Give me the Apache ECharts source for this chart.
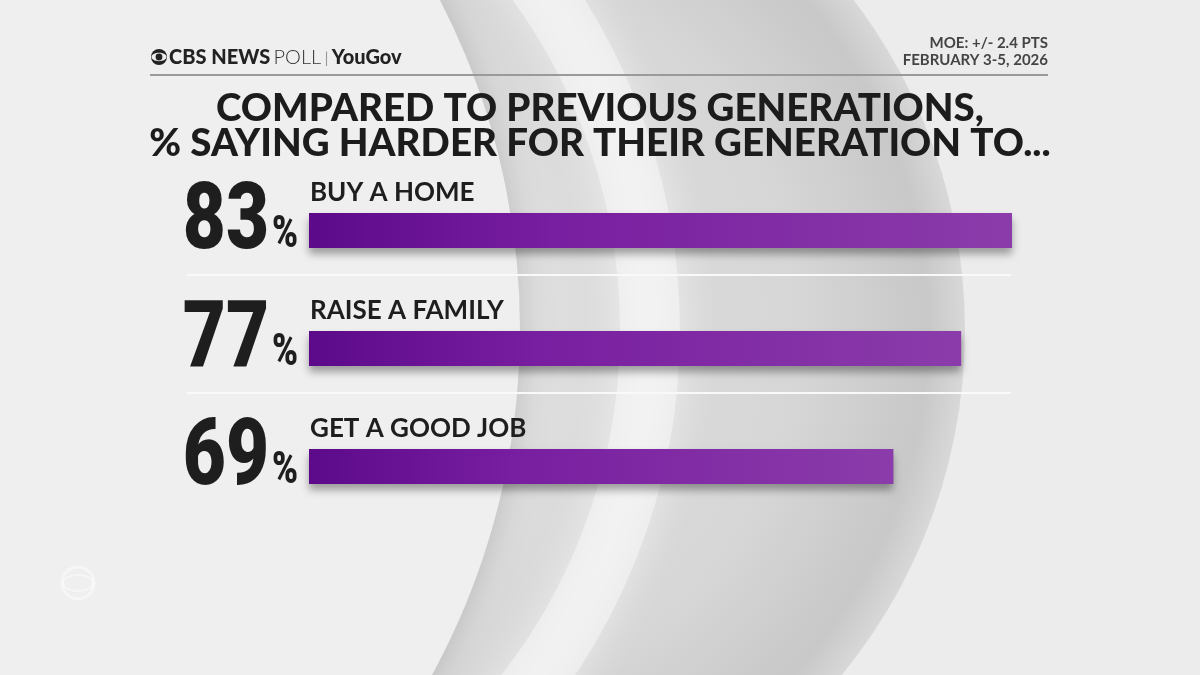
<!DOCTYPE html>
<html>
<head>
<meta charset="utf-8">
<script src="https://cdn.jsdelivr.net/npm/echarts@6/dist/echarts.min.js"></script>
<style>
  html, body { margin: 0; padding: 0; background: #ececec; }
  #chart { width: 1200px; height: 675px; }
</style>
</head>
<body>
<div id="chart"></div>
<script>
// poll data
const categories = ['BUY A HOME', 'RAISE A FAMILY', 'GET A GOOD JOB']
const values = [83, 77, 69]
const titleLines = ['COMPARED TO PREVIOUS GENERATIONS,', '% SAYING HARDER FOR THEIR GENERATION TO...']
const moeText = 'MOE: +/- 2.4 PTS'
const dateText = 'FEBRUARY 3-5, 2026'

const chart = echarts.init(document.getElementById('chart'))

const barColor = new echarts.graphic.LinearGradient(0, 0, 1, 0, [
  { offset: 0, color: '#5c0a8a' },
  { offset: 0.35, color: '#781ea0' },
  { offset: 1, color: '#8b3caa' }
])

// big number + category text, placed from the axis coords
function renderLabels(params, api) {
  const idx = api.value(1)
  const pt = api.coord([0, idx])
  return {
    type: 'group',
    children: [
      {
        type: 'text', x: pt[0] - 40, y: pt[1] - 6, scaleX: 0.8,
        style: {
          text: String(api.value(0)), align: 'right', verticalAlign: 'middle',
          font: '900 93px Roboto', fill: '#1e1e1e'
        }
      },
      {
        type: 'text', x: pt[0] - 11, y: pt[1] + 5, scaleX: 0.78,
        style: {
          text: '%', align: 'right', verticalAlign: 'middle',
          font: '900 45px Roboto', fill: '#1e1e1e'
        }
      },
      {
        type: 'text', x: pt[0] + 1, y: pt[1] - 38,
        style: {
          text: categories[idx], align: 'left', verticalAlign: 'middle',
          font: 'bold 26px Lato', fill: '#1e1e1e'
        }
      }
    ]
  }
}

chart.setOption({
  backgroundColor: '#ececec',
  animation: false,
  graphic: [
    // background, cbs eye style lens
    {
      type: 'circle', z: -10, silent: true,
      shape: { cx: 420, cy: 330, r: 545 },
      style: {
        fill: new echarts.graphic.RadialGradient(0.5, 0.5, 0.5, [
          { offset: 0, color: '#e2e2e2' },
          { offset: 0.7, color: '#d6d6d6' },
          { offset: 0.93, color: '#c8c8c8' },
          { offset: 1, color: '#d8d8d8' }
        ])
      }
    },
    {
      type: 'circle', z: -9, silent: true,
      shape: { cx: 60, cy: 330, r: 590 },
      style: { fill: 'none', stroke: 'rgba(250,250,250,0.5)', lineWidth: 60, shadowBlur: 40, shadowColor: '#ffffff' }
    },
    {
      type: 'circle', z: -8, silent: true,
      shape: { cx: -200, cy: 330, r: 720 },
      style: {
        fill: '#efefef', shadowBlur: 25, shadowColor: 'rgba(0,0,0,0.1)', shadowOffsetX: 6
      }
    },
    // faint cbs bug
    {
      type: 'circle', z: -7, silent: true,
      shape: { cx: 78, cy: 583, r: 16 },
      style: { fill: 'none', stroke: 'rgba(255,255,255,0.45)', lineWidth: 3 }
    },
    {
      type: 'ellipse', z: -7, silent: true,
      shape: { cx: 78, cy: 583, rx: 15, ry: 8 },
      style: { fill: 'none', stroke: 'rgba(255,255,255,0.45)', lineWidth: 2 }
    },
    // header
    {
      type: 'group', left: 151, top: 48,
      children: [
        { type: 'circle', shape: { cx: 8, cy: 9, r: 8 }, style: { fill: '#222' } },
        { type: 'ellipse', shape: { cx: 8, cy: 9, rx: 7.5, ry: 4.2 }, style: { fill: '#eee' } },
        { type: 'circle', shape: { cx: 8, cy: 9, r: 3.4 }, style: { fill: '#222' } },
        {
          type: 'text', x: 18, y: 0,
          style: {
            text: '{b|CBS NEWS} {l|POLL} {s||} {b|YouGov}',
            rich: {
              b: { fontFamily: 'Lato', fontWeight: 900, fontSize: 20, fill: '#222' },
              l: { fontFamily: 'Lato', fontWeight: 300, fontSize: 20, fill: '#333' },
              s: { fontFamily: 'Lato', fontSize: 16, fill: '#999' }
            }
          }
        }
      ]
    },
    {
      type: 'text', x: 1048, y: 35,
      style: {
        text: moeText + '\n' + dateText, align: 'right', lineHeight: 17,
        fontFamily: 'Lato', fontWeight: 'bold', fontSize: 15, fill: '#444'
      }
    },
    { type: 'rect', shape: { x: 150, y: 74, width: 898, height: 2 }, style: { fill: '#9a9a9a' } },
    // title
    {
      type: 'text', x: 600, y: 91,
      style: {
        text: titleLines.join('\n'), align: 'center', lineHeight: 35,
        fontFamily: 'Lato', fontWeight: 900, fontSize: 38.5, fill: '#1c1c1c'
      }
    },
    // row separators
    { type: 'rect', shape: { x: 187, y: 274, width: 824, height: 2 }, style: { fill: '#f9f9f9' } },
    { type: 'rect', shape: { x: 187, y: 392, width: 824, height: 2 }, style: { fill: '#f9f9f9' } }
  ],
  grid: { left: 309, width: 847, top: 171.5, height: 354 },
  xAxis: { type: 'value', min: 0, max: 100, show: false },
  yAxis: {
    type: 'category', data: categories, inverse: true, show: false
  },
  series: [
    {
      type: 'bar', data: values, barWidth: 35,
      itemStyle: {
        color: barColor,
        shadowColor: 'rgba(0,0,0,0.35)', shadowBlur: 8, shadowOffsetY: 6
      }
    },
    {
      type: 'custom', renderItem: renderLabels, z: 5,
      data: values.map((v, i) => [v, i])
    }
  ]
})
</script>
</body>
</html>
